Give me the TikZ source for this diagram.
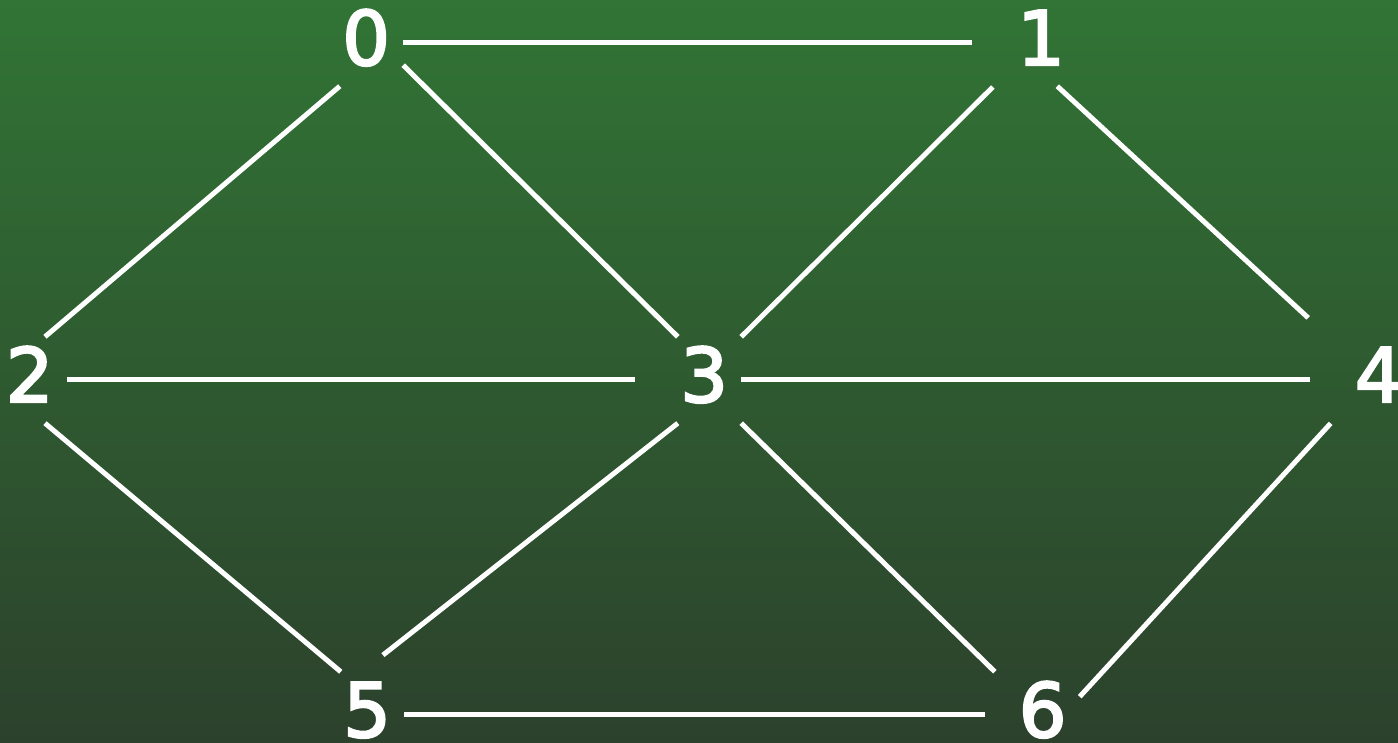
\documentclass[tikz,border=0pt]{standalone}
\usepackage{fontspec}
\newfontfamily\digitfont{DejaVu Sans}[FakeBold=3]
\definecolor{bgtop}{RGB}{49,116,53}
\definecolor{bgbot}{RGB}{44,65,44}
\tikzset{
  vtx/.style={inner sep=0pt, text height=65pt, text depth=21pt, text=white,
    font=\digitfont\fontsize{75}{80}\selectfont},
  conn/.style={draw=white, line width=5pt}
}
\newcommand\vlabel[1]{\kern2.3pt #1\kern13pt}
\begin{document}
\begin{tikzpicture}[x=1pt,y=1pt]
\useasboundingbox (0,0) rectangle (1398,743);
\shade[top color=bgtop, bottom color=bgbot] (0,0) rectangle (1398,743);
\node[vtx] (n0) at (371.5,700) {\vlabel{0}};
\node[vtx] (n1) at (1046.5,700) {\vlabel{1}};
\node[vtx] (n2) at (35,363) {\vlabel{2}};
\node[vtx] (n3) at (709.5,363) {\vlabel{3}};
\node[vtx] (n4) at (1384,363) {\vlabel{4}};
\node[vtx] (n5) at (372.5,28) {\vlabel{5}};
\node[vtx] (n6) at (1048,28) {\vlabel{6}};
\draw[conn, shorten >=43pt] (n0.east) -- (n1.west);
\draw[conn] (n0.south west) -- (n2.77);
\draw[conn] (n0.-35) -- (n3.north west);
\draw[conn, shorten <=31pt] (n1.215) -- (n3.north east);
\draw[conn, shorten >=60pt] (n1.-76) -- (n4.146);
\draw[conn, shorten >=43pt] (n2.east) -- (n3.west);
\draw[conn] (n2.-77.5) -- (n5.north west);
\draw[conn, shorten >=42pt] (n3.east) -- (n4.west);
\draw[conn, shorten >=27pt] (n3.south west) -- (n5.104);
\draw[conn, shorten >=30pt] (n3.south east) -- (n6.145);
\draw[conn, shorten <=32pt] (n4.212) -- (n6.30);
\draw[conn, shorten >=31pt] (n5.east) -- (n6.west);
\end{tikzpicture}
\end{document}
